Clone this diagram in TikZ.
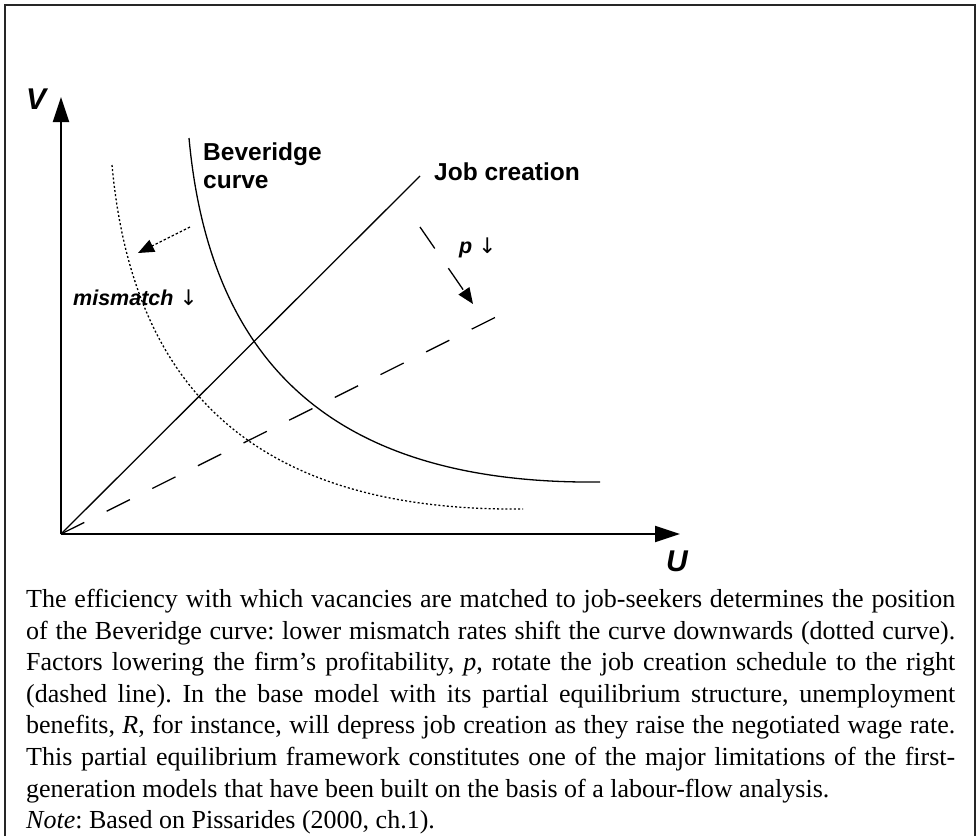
\documentclass[tikz,border=0pt]{standalone}
\usepackage{fontspec}
\setmainfont{Liberation Serif}
\setsansfont{Liberation Sans}
\newfontfamily\arrowfont{DejaVu Sans}
\usetikzlibrary{arrows.meta}

\begin{document}
\begin{tikzpicture}[x=1pt,y=-1pt,
  axis/.style={line width=2pt,-{Triangle[length=25pt,width=16pt]}},
  curve/.style={line width=1.3pt},
  movearrow/.style={line width=1.3pt,-{Triangle[length=16pt,width=13pt]}},
  tag/.style={font=\sffamily\bfseries\fontsize{24.5}{28}\selectfont,inner sep=0pt,anchor=base west},
  note/.style={font=\sffamily\bfseries\itshape\fontsize{21.5}{24}\selectfont,inner sep=0pt,anchor=base west},
  axlbl/.style={font=\sffamily\bfseries\itshape\fontsize{30}{32}\selectfont,inner sep=0pt,anchor=base west}]
  \useasboundingbox (0,0) rectangle (979,836);
  \draw[line width=2pt,black!85] (4.5,836) -- (4.5,5) -- (975,5) -- (975,836);

  \coordinate (O) at (61,534);
  \coordinate (Vtop) at (61,97);
  \coordinate (Uend) at (680,534);
  \draw[axis] (O) -- (Vtop);
  \draw[axis] (O) -- (Uend);
  \node[axlbl] (V) at (26,109) {V};
  \node[axlbl] (U) at (666,571) {U};

  \draw[curve] (189,138) .. controls (208,345) and (315,485) .. (600,482);
  \draw[curve,dash pattern=on 2pt off 2.2pt,shift={(-77,27)}]
    (189,138) .. controls (208,345) and (315,485) .. (600,482);

  \coordinate (jobend) at (420,176);
  \coordinate (pend) at (504,313);
  \draw[curve] (O) -- (jobend);
  \draw[curve,dash pattern=on 26pt off 25pt] (O) -- (pend);

  \coordinate (misfrom) at (190,227);
  \coordinate (misto) at (138,253);
  \coordinate (pfrom) at (420,227);
  \coordinate (pto) at (473,304);
  \draw[movearrow,dash pattern=on 2.5pt off 2pt] (misfrom) -- (misto);
  \draw[movearrow,dash pattern=on 26pt off 24pt] (pfrom) -- (pto);

  \node[tag] (bev) at (203,160) {Beveridge};
  \node[tag] (bevc) at (203,188) {curve};
  \node[tag] (job) at (434,180) {Job creation};
  \node[note] (mis) at (73,305) {mismatch {\arrowfont\upshape\mdseries ↓}};
  \node[note] (pdown) at (459,253) {p {\arrowfont\upshape\mdseries ↓}};

  \node[anchor=north west,inner sep=0pt,text width=929pt,align=justify,
    font=\fontsize{26}{31.6}\selectfont\frenchspacing] (caption) at (26,589)
    {The efficiency with which vacancies are matched to job-seekers determines the position\linebreak
     of the Beveridge curve: lower mismatch rates shift the curve downwards (dotted curve).\linebreak
     Factors lowering the firm’s profitability, \textit{p}, rotate the job creation schedule to the right\linebreak
     (dashed line). In the base model with its partial equilibrium structure, unemployment\linebreak
     benefits, \textit{R}, for instance, will depress job creation as they raise the negotiated wage rate.\linebreak
     This partial equilibrium framework constitutes one of the major limitations of the first-\linebreak
     generation models that have been built on the basis of a labour-flow analysis.\\
     \textit{Note}: Based on Pissarides (2000, ch.1).};
\end{tikzpicture}
\end{document}
